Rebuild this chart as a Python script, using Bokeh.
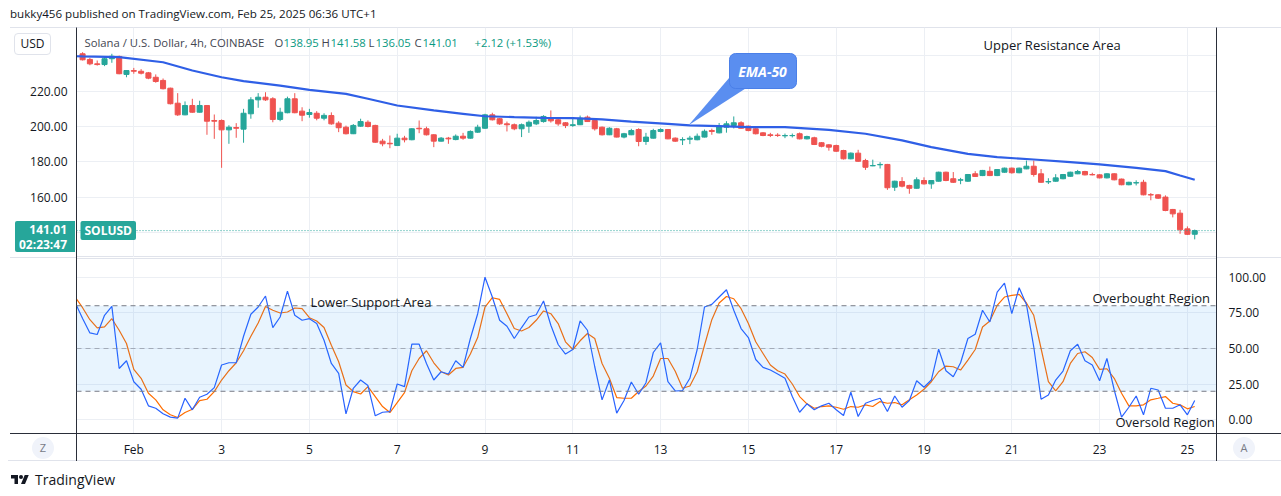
import numpy as np
import pandas as pd
from bokeh.plotting import figure
from bokeh.models import (Range1d, FixedTicker, NumeralTickFormatter, LinearAxis, Span,
                          BoxAnnotation, Label, ColumnDataSource, Div)
from bokeh.layouts import column
from bokeh.embed import file_html
from bokeh.resources import INLINE

FONT = "Open Sans"

# ---------------- data (SOL/USD, 4h, COINBASE) ----------------
first_candle = "2025-01-30 20:00"
opens = [241.2,238.0,235.5,235.1,238.4,239.7,229.5,231.7,231.3,230.4,
         227.9,226.1,221.7,213.2,206.6,211.9,208.1,211.9,203.4,203.4,
         198.1,199.4,198.5,207.2,215.1,216.6,215.7,204.0,207.8,215.7,
         208.7,206.8,207.5,204.7,206.2,201.9,199.6,195.9,200.2,202.4,
         200.6,191.7,190.5,189.2,193.4,192.5,199.0,198.7,195.3,191.7,
         193.4,192.6,194.5,193.4,196.8,199.0,206.6,204.4,201.5,201.0,
         198.7,200.2,201.5,202.8,204.7,203.8,202.1,200.6,201.0,205.3,
         203.4,199.6,195.3,198.7,194.0,195.3,198.3,191.5,193.4,197.2,
         198.3,193.4,192.4,192.8,192.5,194.0,197.7,196.4,199.6,200.6,
         202.1,200.2,198.7,196.4,195.3,195.1,194.7,194.8,195.9,193.0,
         193.6,190.8,189.6,189.2,186.4,181.7,184.9,180.7,177.7,178.3,
         178.5,165.6,168.8,166.6,165.0,169.4,167.5,169.0,174.1,170.4,
         169.6,169.0,173.2,172.2,174.6,172.2,174.1,176.4,173.8,176.0,
         177.5,173.2,168.6,169.0,170.4,171.8,173.2,174.5,172.8,172.6,
         170.9,173.2,170.2,167.0,168.0,168.4,161.4,161.3,160.0,153.0,
         150.9,142.0,138.95]
highs = [242.1,238.9,237.4,239.3,241.2,240.2,231.9,233.2,232.5,230.9,
         229.5,227.2,222.0,218.9,214.2,215.7,214.6,212.1,206.8,204.0,
         200.7,201.9,210.0,216.6,218.9,219.4,216.6,210.6,216.9,218.9,
         210.9,210.0,208.7,207.5,208.0,203.0,200.5,201.4,204.4,203.5,
         201.0,193.0,194.9,195.9,194.7,199.0,203.4,199.9,195.6,194.0,
         194.1,195.5,196.4,197.8,201.0,207.2,207.8,204.8,202.8,201.7,
         201.7,203.4,205.5,206.4,209.1,204.3,202.5,204.4,206.2,206.2,
         203.8,200.0,199.6,199.2,196.4,198.7,199.0,196.4,198.7,199.0,
         198.6,193.8,193.9,194.7,196.0,198.3,198.8,202.0,203.0,205.7,
         203.0,200.5,199.0,196.8,196.4,196.2,196.0,196.0,196.6,194.8,
         194.2,191.2,190.0,189.7,186.8,185.3,186.8,181.7,181.2,179.8,
         178.8,169.3,171.3,167.0,171.2,171.2,169.6,174.4,174.4,174.2,
         170.9,173.1,174.7,175.4,177.3,175.9,176.7,176.7,176.7,180.7,
         180.7,175.9,170.7,173.0,173.1,174.4,175.4,174.9,173.8,173.0,
         173.5,173.5,170.5,168.7,169.5,169.8,162.3,161.6,161.0,153.3,
         152.8,143.4,141.58]
lows = [237.4,234.7,234.5,234.2,236.1,229.6,227.9,229.9,229.5,226.8,
        224.8,221.0,212.5,206.0,206.4,207.8,207.9,195.3,193.0,176.6,
        190.2,193.6,190.8,204.4,210.6,214.5,202.4,203.0,207.5,207.5,
        203.0,205.0,203.5,203.5,201.0,196.8,195.5,195.7,199.8,199.5,
        190.8,188.8,187.7,189.0,191.0,192.2,196.2,194.9,188.3,191.5,
        190.2,192.2,192.5,193.1,196.4,198.7,203.4,200.9,197.2,197.9,
        194.0,196.4,200.8,202.2,202.2,200.4,199.1,199.8,200.8,202.6,
        197.7,194.9,195.1,193.8,193.3,195.1,188.8,189.6,193.2,196.7,
        192.8,191.3,189.5,190.0,192.2,193.8,195.3,196.1,196.5,198.9,
        198.7,197.3,195.5,194.5,194.0,194.1,193.4,193.8,192.7,192.7,
        189.5,188.2,186.3,185.6,181.3,181.4,180.0,175.4,177.5,176.2,
        164.1,163.5,165.5,161.9,164.8,167.1,164.7,168.8,169.0,168.0,
        167.3,168.7,171.4,171.9,171.9,171.9,173.8,173.3,173.5,175.8,
        171.6,168.1,167.4,168.7,170.1,171.5,173.0,172.3,172.3,170.6,
        170.6,169.5,166.7,166.7,166.6,161.0,158.2,159.0,152.0,148.5,
        139.2,138.5,136.05]
closes = [237.8,235.5,235.1,238.4,239.8,229.9,231.7,231.3,230.2,227.4,
          225.5,221.4,212.9,206.6,211.9,208.1,211.9,203.0,203.0,198.1,
          199.6,199.0,207.5,215.1,216.6,215.1,204.0,208.1,215.7,207.8,
          206.4,207.9,204.7,206.3,201.5,199.3,195.9,200.6,202.8,200.0,
          191.1,190.2,190.2,193.4,192.5,198.7,198.7,195.3,191.7,193.4,
          193.0,194.5,193.4,197.2,199.6,206.6,203.8,201.5,201.0,198.7,
          201.0,202.4,203.4,205.7,203.2,201.5,200.6,201.0,204.7,202.8,
          198.7,195.3,199.0,194.0,195.9,197.7,191.5,194.0,197.7,198.3,
          193.0,191.7,192.6,193.4,194.5,197.3,197.2,200.2,201.5,202.1,
          199.0,197.7,195.9,194.9,194.9,194.9,194.9,194.9,193.0,194.3,
          189.8,188.8,188.3,186.0,181.7,184.9,180.3,176.9,177.9,178.5,
          165.3,169.0,166.2,165.0,169.8,167.5,169.4,174.1,169.4,168.4,
          169.8,172.8,171.7,175.1,172.2,175.6,176.4,173.8,176.4,177.5,
          172.8,168.4,168.8,170.9,172.8,174.1,174.5,172.6,172.6,170.9,
          173.2,169.8,167.0,168.4,168.2,161.3,161.2,159.4,152.4,150.5,
          141.5,138.9,141.01]

# EMA-50 read at sample candle positions (candle index, value)
ema_idx = [-1,0,5,11,15,19,22,27,31,36,39,43,48,52,55,59,63,67,71,75,80,83,87,91,96,
           102,107,112,116,121,125,130,135,139,144,148,150,152]
ema_val = [239.8,239.7,239.3,236.4,231.7,227.9,225.7,223.2,220.8,218.5,215.7,211.9,209.1,
           207.2,205.8,205.3,204.9,204.7,204.0,202.8,201.5,200.6,200.2,199.6,199.6,
           198.1,195.9,192.1,188.3,184.5,182.6,181.3,179.8,178.5,176.6,174.7,172.2,169.8]

# Stochastic (%K blue, %D orange) starting one candle before the first visible one
stoch_start = "2025-01-30 16:00"
stoch_k = [82.0,
    71.0,60.9,59.8,73.3,79.5,36.0,41.4,26.7,21.4,9.8,
    8.1,4.2,1.9,1.2,15.1,7.0,15.8,17.9,22.6,38.4,
    40.0,40.0,58.6,74.0,79.1,86.8,64.7,72.1,90.2,73.3,
    69.8,70.9,67.5,55.8,39.5,32.6,4.2,22.1,27.9,24.0,
    2.8,5.3,5.8,25.1,23.3,53.0,53.0,39.5,27.9,33.7,
    32.1,41.4,36.8,57.0,74.4,100.0,86.1,69.8,65.6,57.0,
    64.7,72.1,73.7,83.3,66.3,52.8,46.1,49.3,69.3,62.8,
    37.2,14.0,27.9,4.7,13.5,26.5,17.9,26.0,47.2,54.0,
    26.7,20.2,20.5,29.1,49.3,79.1,80.9,86.1,91.2,76.8,
    64.0,57.7,42.3,36.8,34.9,32.1,29.1,16.3,5.3,11.2,
    7.0,9.8,11.6,7.0,3.0,19.3,2.3,11.6,13.5,15.1,
    5.8,16.7,8.8,13.5,27.4,22.8,27.9,49.5,34.4,30.2,
    40.0,57.0,60.0,76.8,68.6,89.5,95.8,74.4,92.6,80.9,
    51.2,14.4,17.4,27.9,34.2,48.4,53.0,41.4,38.4,27.4,
    43.0,20.9,1.9,8.8,16.7,3.5,22.1,20.9,8.1,8.1,
    10.5,3.5,13.5]
stoch_d = [86.0,
    78.6,70.2,64.4,65.1,70.9,62.8,53.5,35.4,29.1,18.6,
    14.0,7.0,3.5,1.6,5.1,7.4,13.5,14.4,19.8,27.9,
    34.4,40.0,48.4,58.6,67.9,79.5,76.8,74.9,75.6,78.4,
    77.9,71.6,69.3,64.7,52.3,40.7,24.4,19.8,18.1,23.3,
    16.3,9.3,5.1,12.1,19.1,34.4,43.0,48.4,40.0,33.7,
    31.4,36.0,36.8,46.1,57.7,79.1,85.6,84.4,74.4,64.0,
    62.3,64.7,69.8,76.3,74.4,67.5,54.7,49.3,55.4,60.5,
    57.0,39.5,29.1,15.6,15.1,15.1,19.8,23.7,30.7,43.0,
    43.0,34.0,22.1,23.7,33.7,52.3,70.2,81.9,86.5,84.9,
    77.9,67.5,54.7,46.5,38.4,34.4,32.1,25.1,16.3,11.2,
    8.1,9.3,9.8,8.8,7.4,9.3,8.8,10.5,9.3,12.8,
    11.6,12.1,10.5,14.0,17.4,21.4,26.7,33.7,37.7,37.2,
    34.9,41.9,49.3,65.1,69.3,80.2,86.1,87.2,87.9,81.9,
    73.3,50.0,26.7,20.2,26.7,39.5,46.5,47.7,43.7,35.4,
    35.8,29.1,18.6,9.8,9.8,10.5,14.0,15.1,16.3,11.6,
    10.5,7.7,9.3]

day_ticks = list(range(0, 25, 2))
day_labels = ["Feb", "3", "5", "7", "9", "11", "13", "15", "17", "19", "21", "23", "25"]
price_grid = [140, 160, 180, 200, 220, 240]
price_ticks = [160, 180, 200, 220]
stoch_ticks = [0, 25, 50, 75, 100]
band_upper, band_mid, band_lower = 80, 50, 20
last_price_text = "141.01"
countdown_text = "02:23:47"

# ---------------- helpers ----------------
FEB1 = pd.Timestamp("2025-02-01")
def to_days(ts):
    return np.asarray((ts - FEB1) / pd.Timedelta(days=1), dtype=float)

t_c = pd.date_range(first_candle, periods=len(closes), freq="4h")
xc = to_days(t_c)
t0 = pd.Timestamp(first_candle)
ema_x = to_days(pd.DatetimeIndex([t0 + pd.Timedelta(hours=4 * i) for i in ema_idx]))
t_s = pd.date_range(stoch_start, periods=len(stoch_k), freq="4h")
xs = to_days(t_s)

# screen layout (reference pixels) -> data
FEB1_PX, DAY_PX = 133.3, 43.9
def day_at(px): return (px - FEB1_PX) / DAY_PX
def price_at(py): return 200 + (126 - py) / 1.765
def stoch_at(py): return (419.3 - py) / 1.426

X0, X1 = day_at(76), day_at(1216)
xr = Range1d(X0, X1)
W = 1281

UP, DOWN = "#26a69a", "#ef5350"
GRID = "#eceff4"
AXIS = "#2a2e39"
TXT = "#131722"
LIGHT = "#e0e3eb"

# ---------------- price panel ----------------
p1 = figure(width=W, height=230, x_range=xr, y_range=Range1d(price_at(257), price_at(27)),
            output_backend="svg", toolbar_location=None, x_axis_location=None,
            y_axis_location="left", min_border_left=76, min_border_right=W - 1216,
            min_border_top=0, min_border_bottom=0)
p1.outline_line_color = LIGHT
p1.yaxis.ticker = FixedTicker(ticks=price_ticks)
p1.yaxis.formatter = NumeralTickFormatter(format="0.00")
for ax in p1.yaxis:
    ax.axis_line_color = AXIS
    ax.major_tick_line_color = None
    ax.minor_tick_line_color = None
    ax.major_tick_out = 0
    ax.major_tick_in = 0
    ax.major_label_standoff = 9
    ax.major_label_text_font = FONT
    ax.major_label_text_font_size = "12px"
    ax.major_label_text_color = TXT
rax1 = LinearAxis(ticker=FixedTicker(ticks=[]), axis_line_color=AXIS,
                  major_tick_line_color=None, minor_tick_line_color=None)
p1.add_layout(rax1, "right")
p1.ygrid.ticker = FixedTicker(ticks=price_grid)
p1.ygrid.grid_line_color = GRID
p1.xgrid.ticker = FixedTicker(ticks=day_ticks)
p1.xgrid.grid_line_color = GRID

o = np.array(opens); c = np.array(closes)
cols = [UP if cc >= oo else DOWN for oo, cc in zip(o, c)]
src = ColumnDataSource(dict(x=xc, o=o, c=c, h=highs, l=lows,
                            top=np.maximum(o, c), bot=np.minimum(o, c), col=cols))
p1.segment("x", "h", "x", "l", source=src, line_color="col", line_width=1)
p1.vbar(x="x", width=0.115, top="top", bottom="bot", source=src,
        fill_color="col", line_color="col", line_width=1)

p1.line(ema_x, ema_val, line_color="#2f5fe6", line_width=2.2)

p1.add_layout(Span(location=closes[-1], dimension="width", line_color=UP,
                   line_dash="1 2", line_width=1))

# EMA-50 callout
tip_x = day_at(688)
tip_y = float(np.interp(tip_x, ema_x, ema_val))
p1.patch([day_at(729), day_at(745), tip_x], [price_at(77), price_at(88), tip_y],
         fill_color="#5a8ef0", line_color=None)
p1.quad(left=day_at(729), right=day_at(796), top=price_at(53), bottom=price_at(88),
        fill_color="#5a8ef0", line_color="#4a7fe8", border_radius=6)
p1.add_layout(Label(x=day_at(762), y=price_at(70.5), text="EMA-50", text_align="center",
                    text_baseline="middle", text_color="white", text_font=FONT,
                    text_font_size="14px", text_font_style="bold italic"))

p1.add_layout(Label(x=day_at(983), y=price_at(44), text="Upper Resistance Area",
                    text_baseline="middle", text_color=TXT, text_font=FONT,
                    text_font_size="13px"))

# legend row
leg_y = price_at(42)
GRAYT = "#434651"
VAL = "#089981"
for txt, px, colr in [("Solana / U.S. Dollar, 4h, COINBASE", 84, GRAYT),
                      ("O", 274, GRAYT), ("138.95", 283, VAL),
                      ("H", 321, GRAYT), ("141.58", 330, VAL),
                      ("L", 368, GRAYT), ("136.05", 375, VAL),
                      ("C", 414, GRAYT), ("141.01", 422, VAL),
                      ("+2.12 (+1.53%)", 474, VAL)]:
    p1.add_layout(Label(x=day_at(px), y=leg_y, text=txt, text_baseline="middle",
                        text_color=colr, text_font=FONT, text_font_size="11.3px"))

p1.add_layout(Label(x=X0, y=closes[-1], x_offset=4, text="SOLUSD", text_align="left",
                    text_baseline="middle", text_color="white", text_font=FONT,
                    text_font_size="12px", text_font_style="bold",
                    background_fill_color=UP, padding=(4, 1), border_radius=2))

# ---------------- stochastic panel ----------------
p2 = figure(width=W, height=203, x_range=xr, y_range=Range1d(stoch_at(433), stoch_at(258)),
            output_backend="svg", toolbar_location=None, y_axis_location="right",
            min_border_left=76, min_border_right=W - 1216, min_border_top=1,
            min_border_bottom=27)
p2.outline_line_color = LIGHT
p2.yaxis.ticker = FixedTicker(ticks=stoch_ticks)
p2.yaxis.formatter = NumeralTickFormatter(format="0.00")
p2.xaxis.ticker = FixedTicker(ticks=day_ticks)
p2.xaxis.major_label_overrides = dict(zip(day_ticks, day_labels))
for ax in list(p2.yaxis) + list(p2.xaxis):
    ax.axis_line_color = AXIS
    ax.major_tick_line_color = None
    ax.minor_tick_line_color = None
    ax.major_tick_out = 0
    ax.major_tick_in = 0
    ax.major_label_text_font = FONT
    ax.major_label_text_font_size = "12px"
    ax.major_label_text_color = TXT
p2.yaxis.major_label_standoff = 12
p2.xaxis.major_label_standoff = 7
lax2 = LinearAxis(ticker=FixedTicker(ticks=[]), axis_line_color=AXIS,
                  major_tick_line_color=None, minor_tick_line_color=None)
p2.add_layout(lax2, "left")
p2.ygrid.grid_line_color = GRID
p2.xgrid.grid_line_color = GRID

p2.add_layout(BoxAnnotation(bottom=band_lower, top=band_upper, fill_color="#2196f3",
                            fill_alpha=0.1, line_color=None))
p2.add_layout(Span(location=band_upper, dimension="width", line_color="#787b86",
                   line_dash="5 4", line_width=1))
p2.add_layout(Span(location=band_mid, dimension="width", line_color="#787b86",
                   line_dash="5 4", line_width=1, line_alpha=0.55))
p2.add_layout(Span(location=band_lower, dimension="width", line_color="#787b86",
                   line_dash="5 4", line_width=1))

p2.line(xs, stoch_d, line_color="#ff6d00", line_width=1.2)
p2.line(xs, stoch_k, line_color="#2962ff", line_width=1.2)

for txt, px, py in [("Lower Support Area", 310, 301), ("Overbought Region", 1092, 297),
                    ("Oversold Region", 1115, 421)]:
    p2.add_layout(Label(x=day_at(px), y=stoch_at(py), text=txt, text_baseline="middle",
                        text_color=TXT, text_font=FONT, text_font_size="13px"))

# ---------------- header (with page-level overlay badges/frame lines) / footer ----------------
def box(left, top, w, h, css, inner=""):
    return (f"<div style=\"position:absolute;left:{left}px;top:{top}px;width:{w}px;"
            f"height:{h}px;box-sizing:border-box;{css}\">{inner}</div>")

header_html = (
    "<div style=\"position:relative;width:1281px;height:27px;font-family:'Open Sans';\">"
    + box(10, 7, 600, 14, "font-size:11.6px;line-height:14px;color:#131722;white-space:nowrap",
          "bukky456 published on TradingView.com, Feb 25, 2025 06:36 UTC+1")
    # frame lines continued through the side columns
    + box(10, 27, 66, 1, f"background:{LIGHT}")
    + box(1217, 27, 64, 1, f"background:{LIGHT}")
    + box(10, 257, 66, 1, f"background:{LIGHT}")
    + box(1217, 257, 64, 1, f"background:{LIGHT}")
    + box(10, 433, 1271, 1, f"background:{AXIS}")
    + box(8, 460, 1273, 1, f"background:{LIGHT}")
    + box(76, 433, 1, 28, f"background:{AXIS}")
    + box(1216, 433, 1, 28, f"background:{AXIS}")
    + box(76, 257, 1, 2, f"background:{AXIS}")
    + box(1216, 257, 1, 2, f"background:{AXIS}")
    # badges on the scales
    + box(14, 33, 37, 22, "border:1px solid #e0e3eb;border-radius:4px;background:#fff;"
          "font-size:12px;line-height:20px;text-align:center;color:#131722", "USD")
    + box(15, 221, 60, 31, "background:#26a69a;border-radius:2px 0 0 2px;color:#fff;"
          "font-size:12px;font-weight:bold;line-height:15px;text-align:right;"
          "padding:1px 8px 0 0;white-space:nowrap",
          last_price_text + "<br>" + countdown_text)
    + box(32, 437, 22, 22, "border-radius:11px;background:#f0f3fa;color:#787b86;"
          "font-size:11px;line-height:22px;text-align:center", "Z")
    + box(1233, 437, 22, 22, "border-radius:11px;background:#f0f3fa;color:#787b86;"
          "font-size:11px;line-height:22px;text-align:center", "A")
    + "</div>")
header = Div(text=header_html, width=W, height=27, margin=(0, 0, 0, 0),
             styles={"overflow": "visible", "position": "relative", "z-index": "10"})

logo = ("<svg width='20' height='14' viewBox='0 0 36 28' style='margin-right:5px'>"
        "<path d='M14 22H7V11H0V4h14v18zM28 22h-8l7.5-18h8L28 22z' fill='#131722'/>"
        "<circle cx='20' cy='8' r='4' fill='#131722'/></svg>")
footer = Div(text=("<div style=\"display:flex;align-items:center;font-family:'Open Sans';"
                   "font-size:14px;color:#131722;padding-left:10px;padding-top:10px\">"
                   + logo + "<span>TradingView</span></div>"),
             width=W, height=34, margin=(0, 0, 0, 0))

layout = column(header, p1, p2, footer, spacing=0)
open("out.html", "w").write(file_html(layout, INLINE))
